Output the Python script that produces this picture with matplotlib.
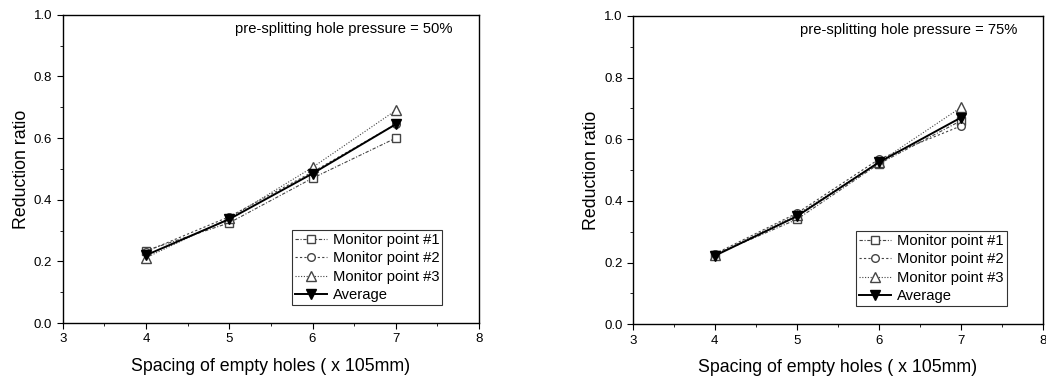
import matplotlib
matplotlib.use("Agg")
import matplotlib.pyplot as plt
from matplotlib.ticker import MultipleLocator

plt.rcParams['font.family'] = ['Liberation Sans', 'DejaVu Sans']

spacing = [4, 5, 6, 7]
labels = ["Monitor point #1", "Monitor point #2", "Monitor point #3", "Average"]
p50_mp1 = [0.235, 0.325, 0.470, 0.600]
p50_mp2 = [0.232, 0.345, 0.490, 0.645]
p50_mp3 = [0.212, 0.340, 0.505, 0.690]
p50_avg = [0.220, 0.337, 0.485, 0.645]
p75_mp1 = [0.225, 0.340, 0.520, 0.660]
p75_mp2 = [0.228, 0.360, 0.535, 0.643]
p75_mp3 = [0.225, 0.355, 0.525, 0.703]
p75_avg = [0.222, 0.350, 0.525, 0.670]
titles = ["pre-splitting hole pressure = 50%", "pre-splitting hole pressure = 75%"]

fig = plt.figure(figsize=(10.46, 3.8), dpi=100)
ax1 = fig.add_axes([0.060, 0.150, 0.398, 0.811])
ax2 = fig.add_axes([0.605, 0.147, 0.392, 0.811])

styles = [
    dict(ls=(0, (3, 1.5, 1, 1.5)), marker='s', color='#444444', lw=0.8, mfc='white', ms=5.5),
    dict(ls=(0, (2, 2)), marker='o', color='#444444', lw=0.8, mfc='white', ms=5.5),
    dict(ls=(0, (1, 1.5)), marker='^', color='#444444', lw=0.8, mfc='white', ms=6.5),
    dict(ls='-', marker='v', color='black', lw=1.4, mfc='black', ms=6.5),
]

for ax, series, title in [(ax1, [p50_mp1, p50_mp2, p50_mp3, p50_avg], titles[0]),
                          (ax2, [p75_mp1, p75_mp2, p75_mp3, p75_avg], titles[1])]:
    for vals, lab, st in zip(series, labels, styles):
        ax.plot(spacing, vals, label=lab, mec=st['color'], **st)
    ax.set_xlim(3, 8)
    ax.set_ylim(0, 1.0)
    ax.xaxis.set_minor_locator(MultipleLocator(0.5))
    ax.yaxis.set_minor_locator(MultipleLocator(0.1))
    ax.set_xticks([3, 4, 5, 6, 7, 8])
    ax.set_xticklabels(['3', '4', '5', '6', '7', '8'])
    ax.set_yticks([0.0, 0.2, 0.4, 0.6, 0.8, 1.0])
    ax.set_yticklabels(['0.0', '0.2', '0.4', '0.6', '0.8', '1.0'])
    ax.tick_params(axis='both', which='major', direction='out', length=4, labelsize=9.5)
    ax.tick_params(axis='both', which='minor', direction='out', length=2)
    ax.set_xlabel("Spacing of empty holes ( x 105mm)", fontsize=12.8, labelpad=9)
    ax.set_ylabel("Reduction ratio", fontsize=12.8, labelpad=3)
    for s in ax.spines.values():
        s.set_linewidth(1.0)
    ax.text(0.937, 0.955, title, transform=ax.transAxes, ha='right', va='center', fontsize=10.6)
    leg = ax.legend(loc='lower right', bbox_to_anchor=(0.912, 0.058), fontsize=10.6,
                    frameon=True, fancybox=False, edgecolor='black', handlelength=2.2,
                    handletextpad=0.4, borderpad=0.2, labelspacing=0.3, borderaxespad=0)
    leg.get_frame().set_linewidth(0.8)

fig.savefig("out.png", dpi=100)
